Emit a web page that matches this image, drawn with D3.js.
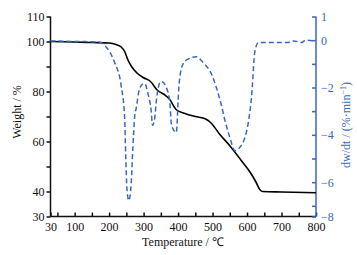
<!DOCTYPE html>
<html lang="en">
<head>
<meta charset="UTF-8">
<title>TG / DTG</title>
<style>
    body { margin: 0; background: #fff; }
    svg { display: block; }
</style>
</head>
<body>
<script src="https://d3js.org/d3.v7.min.js"></script>
<script>
    // TG curve: temperature (°C) -> weight (%)
    const tgTemp   = [30, 100, 150, 200, 220, 235, 245, 255, 265, 280, 300, 320, 340, 360, 375, 395, 420, 450, 480, 495, 520, 550, 580, 610, 625, 638, 645, 700, 800];
    const tgWeight = [100, 99.8, 99.6, 99.4, 98.8, 97.8, 96, 92.5, 90, 87.5, 85.5, 84, 80.5, 78.8, 77, 72.7, 71.2, 70, 69, 67.5, 63, 58.3, 53, 47.5, 44, 40.6, 40, 39.8, 39.5];

    // DTG curve: temperature (°C) -> dw/dt (%/min)
    const dtgTemp = [30, 80, 130, 170, 192, 201, 216, 235, 245, 248, 252, 257, 264, 269, 274, 279, 288, 298, 303, 313, 322, 326, 332, 337, 347, 352, 366, 376, 381, 395, 400, 403, 414, 429, 439, 453, 468, 477, 497, 511, 526, 536, 550, 565, 579, 594, 603, 613, 623, 633, 680, 716, 735, 759, 769, 793];
    const dtgRate = [-0.03, -0.05, -0.06, -0.08, -0.3, -0.48, -0.94, -1.93, -3.26, -4.8, -6.35, -6.77, -6.07, -4.5, -3.26, -2.84, -2.06, -1.85, -1.83, -2.28, -2.98, -3.6, -3.33, -2.56, -1.79, -1.74, -2.0, -2.63, -3.6, -3.9, -2.6, -1.85, -1.01, -0.8, -0.73, -0.7, -0.87, -1.01, -1.43, -2.0, -2.77, -3.4, -4.1, -4.67, -4.53, -4.1, -3.54, -2.4, -0.45, -0.1, -0.1, -0.1, -0.03, -0.1, 0, -0.03];

    // axis ticks
    const xTicks = d3.range(50, 801, 50).concat([30]);
    const xLabels = [30, 100, 200, 300, 400, 500, 600, 700, 800];
    const yTicks = [30, 40, 50, 60, 70, 80, 90, 100, 110];
    const yLabels = [30, 40, 60, 80, 100, 110];
    const rBottom = -7.45;            // bottom of the right axis, labelled "-8" in the figure
    const rTicks = [1, 0, -1, -2, -3, -4, -5, -6, -7, rBottom];
    const rLabels = { "1": "1", "0": "0", "-2": "\u22122", "-4": "\u22124", "-6": "\u22126" };
    rLabels[rBottom] = "\u22128";

    const width = 357, height = 255;
    const margin = { top: 16.5, right: 41, bottom: 38.5, left: 50.5 };
    const innerWidth = width - margin.left - margin.right;
    const innerHeight = height - margin.top - margin.bottom;
    const blue = "#3b66c2";
    const serif = "Liberation Serif";

    const svg = d3.select("body").append("svg")
        .attr("width", width)
        .attr("height", height)
        .attr("font-family", serif);

    const g = svg.append("g").attr("transform", `translate(${margin.left}, ${margin.top})`);

    const xScale = d3.scaleLinear().domain([30, 800]).range([0, innerWidth]);
    const yScale = d3.scaleLinear().domain([30, 110]).range([innerHeight, 0]);
    const rScale = d3.scaleLinear().domain([rBottom, 1]).range([innerHeight, 0]);

    // axes
    const xAxis = d3.axisBottom(xScale)
        .tickValues(xTicks)
        .tickSize(-4)
        .tickPadding(6)
        .tickFormat(d => xLabels.includes(d) ? d : "");
    const yAxis = d3.axisLeft(yScale)
        .tickValues(yTicks)
        .tickSize(4)
        .tickPadding(2)
        .tickFormat(d => yLabels.includes(d) ? d : "");
    const rAxis = d3.axisRight(rScale)
        .tickValues(rTicks)
        .tickSize(-4)
        .tickPadding(5)
        .tickFormat(d => rLabels[d] || "");

    const xg = g.append("g").attr("transform", `translate(0, ${innerHeight})`).call(xAxis);
    const yg = g.append("g").call(yAxis);
    const rg = g.append("g").attr("transform", `translate(${innerWidth}, 0)`).call(rAxis);

    [xg, yg, rg].forEach(a => {
        a.attr("font-family", serif).attr("font-size", 12);
        // minor ticks carry no label
        a.selectAll(".tick text").filter(function () { return this.textContent === ""; }).remove();
    });
    [xg, yg].forEach(a => {
        a.selectAll("path, line").attr("stroke", "#111").attr("stroke-width", 1.5);
        a.selectAll("text").attr("fill", "#111");
    });
    rg.selectAll("path, line").attr("stroke", blue).attr("stroke-width", 1.5);
    rg.selectAll("text").attr("fill", blue);

    // plain domain lines without end caps
    xg.select(".domain").attr("d", `M0,0H${innerWidth}`);
    yg.select(".domain").attr("d", `M0,0V${innerHeight}`);
    rg.select(".domain").attr("d", `M0,0V${innerHeight}`);

    // curves
    const tgLine = d3.line()
        .x((d, i) => xScale(tgTemp[i]))
        .y(d => yScale(d))
        .curve(d3.curveMonotoneX);
    const dtgLine = d3.line()
        .x((d, i) => xScale(dtgTemp[i]))
        .y(d => rScale(d))
        .curve(d3.curveMonotoneX);

    g.append("path")
        .attr("d", tgLine(tgWeight))
        .attr("fill", "none")
        .attr("stroke", "#000")
        .attr("stroke-width", 1.6);

    g.append("path")
        .attr("d", dtgLine(dtgRate))
        .attr("fill", "none")
        .attr("stroke", blue)
        .attr("stroke-width", 1.5)
        .attr("stroke-dasharray", "5,3");

    // axis titles
    svg.append("text")
        .text("Temperature / \u2103")
        .attr("x", 183)
        .attr("y", 245.5)
        .attr("text-anchor", "middle")
        .attr("font-size", 12)
        .attr("fill", "#111");

    svg.append("text")
        .text("Weight / %")
        .attr("transform", "translate(20.5, 112) rotate(-90)")
        .attr("text-anchor", "middle")
        .attr("font-size", 12)
        .attr("fill", "#111");

    const rt = svg.append("text")
        .attr("transform", "translate(350, 125) rotate(-90)")
        .attr("text-anchor", "middle")
        .attr("font-size", 12)
        .attr("fill", blue);
    rt.append("tspan").text("dw/dt / (%\u00b7min");
    rt.append("tspan").text("\u22121").attr("font-size", 8).attr("dy", -4);
    rt.append("tspan").text(")").attr("dy", 4);
</script>
</body>
</html>
